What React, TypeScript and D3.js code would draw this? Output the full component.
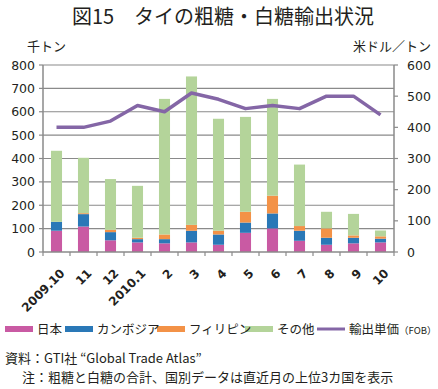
import { useEffect, useRef } from 'react';
import * as d3 from 'd3';

// months (2009.10 - 2010.10)
const categories = ['2009.10', '11', '12', '2010.1', '2', '3', '4', '5', '6', '7', '8', '9', '10'];

// exports, thousand tonnes
const japan = [91, 109, 50, 41, 37, 41, 31, 82, 101, 48, 31, 37, 41];
const cambodia = [38, 53, 35, 14, 18, 50, 44, 44, 64, 43, 30, 24, 16];
const philippines = [0, 4, 10, 6, 20, 25, 16, 46, 76, 20, 40, 10, 10];
const others = [304, 237, 217, 222, 580, 635, 479, 406, 414, 263, 71, 92, 25];

// unit export price (FOB), USD / tonne
const price = [400, 400, 420, 470, 450, 510, 490, 460, 470, 460, 500, 500, 440];

const leftTicks = [0, 100, 200, 300, 400, 500, 600, 700, 800];
const rightTicks = [0, 100, 200, 300, 400, 500, 600];

const seriesNames = ['日本', 'カンボジア', 'フィリピン', 'その他'];
const seriesColors = ['#c95aa3', '#2a78b7', '#f39247', '#b4d49a'];
const lineColor = '#8466a6';

const FONT = '"Noto Sans CJK JP", "Noto Sans", sans-serif';
const NUMFONT = '"DejaVu Sans", sans-serif';

const App = () => {
  const svgRef = useRef<SVGSVGElement | null>(null);

  useEffect(() => {
    if (!svgRef.current) return;
    const svg = d3.select(svgRef.current);
    svg.selectAll('*').remove();

    const left = 43;
    const right = 394;
    const top = 65;
    const bottom = 252;

    const x = d3.scaleBand<string>().domain(categories).range([left, right]).padding(0);
    const barW = x.bandwidth() * 0.41;
    const yL = d3.scaleLinear().domain([0, 800]).range([bottom, top]);
    const yR = d3.scaleLinear().domain([0, 600]).range([bottom, top]);

    const g = svg.append('g').style('font-family', FONT);

    // title
    g.append('text')
      .attr('x', 223)
      .attr('y', 24)
      .attr('text-anchor', 'middle')
      .attr('font-size', 20)
      .attr('fill', '#231f20')
      .text('図15　タイの粗糖・白糖輸出状況');

    // unit labels
    g.append('text').attr('x', 27).attr('y', 51).attr('font-size', 13).attr('fill', '#231f20').text('千トン');
    g.append('text').attr('x', 431).attr('y', 51).attr('text-anchor', 'end').attr('font-size', 13).attr('fill', '#231f20').text('米ドル／トン');

    // gridlines
    g.append('g')
      .selectAll('line')
      .data(leftTicks.slice(1))
      .join('line')
      .attr('x1', left)
      .attr('x2', right)
      .attr('y1', d => yL(d))
      .attr('y2', d => yL(d))
      .attr('stroke', '#8a8a8a')
      .attr('stroke-width', 1.2);

    // stacked bars
    const table = categories.map((c, i) => ({
      cat: c,
      s0: japan[i],
      s1: cambodia[i],
      s2: philippines[i],
      s3: others[i],
    }));
    const stack = d3.stack<any>().keys(['s0', 's1', 's2', 's3']);
    const layers = stack(table);

    g.append('g')
      .selectAll('g')
      .data(layers)
      .join('g')
      .attr('fill', (d, i) => seriesColors[i])
      .selectAll('rect')
      .data(d => d)
      .join('rect')
      .attr('x', d => (x(d.data.cat) as number) + (x.bandwidth() - barW) / 2)
      .attr('width', barW)
      .attr('y', d => yL(d[1]))
      .attr('height', d => Math.max(0, yL(d[0]) - yL(d[1])));

    // axes
    const axisColor = '#8a8a8a';
    g.append('line').attr('x1', left).attr('x2', left).attr('y1', top).attr('y2', bottom)
      .attr('stroke', axisColor).attr('stroke-width', 1.5);
    g.append('line').attr('x1', right).attr('x2', right).attr('y1', top).attr('y2', bottom)
      .attr('stroke', axisColor).attr('stroke-width', 1.5);
    g.append('line').attr('x1', left).attr('x2', right).attr('y1', bottom).attr('y2', bottom)
      .attr('stroke', axisColor).attr('stroke-width', 1.5);

    // left ticks + labels
    const lt = g.append('g');
    lt.selectAll('line')
      .data(leftTicks)
      .join('line')
      .attr('x1', left - 4)
      .attr('x2', left)
      .attr('y1', d => yL(d))
      .attr('y2', d => yL(d))
      .attr('stroke', axisColor)
      .attr('stroke-width', 1.2);
    lt.selectAll('text')
      .data(leftTicks)
      .join('text')
      .attr('x', 35)
      .attr('y', d => yL(d))
      .attr('dy', '0.36em')
      .attr('text-anchor', 'end')
      .attr('font-family', NUMFONT)
      .attr('font-size', 12.5)
      .attr('fill', '#231f20')
      .text(d => d);

    // right ticks + labels
    const rt = g.append('g');
    rt.selectAll('line')
      .data(rightTicks)
      .join('line')
      .attr('x1', right)
      .attr('x2', right + 4)
      .attr('y1', d => yR(d))
      .attr('y2', d => yR(d))
      .attr('stroke', axisColor)
      .attr('stroke-width', 1.2);
    rt.selectAll('text')
      .data(rightTicks)
      .join('text')
      .attr('x', 407)
      .attr('y', d => yR(d))
      .attr('dy', '0.36em')
      .attr('font-family', NUMFONT)
      .attr('font-size', 12.5)
      .attr('fill', '#231f20')
      .text(d => d);

    // bottom ticks at category boundaries
    const bounds = categories.map(c => x(c) as number).concat([right]);
    g.append('g')
      .selectAll('line')
      .data(bounds)
      .join('line')
      .attr('x1', d => d)
      .attr('x2', d => d)
      .attr('y1', bottom)
      .attr('y2', bottom + 4)
      .attr('stroke', axisColor)
      .attr('stroke-width', 1.2);

    // category labels, rotated
    g.append('g')
      .selectAll('text')
      .data(categories)
      .join('text')
      .attr('transform', d => `translate(${(x(d) as number) + x.bandwidth() / 2 + 9},${bottom + 22}) rotate(-45)`)
      .attr('text-anchor', 'end')
      .attr('font-family', NUMFONT)
      .attr('font-size', 12)
      .attr('font-weight', 'bold')
      .attr('fill', '#231f20')
      .text(d => d);

    // price line
    const line = d3.line<number>()
      .x((d, i) => (x(categories[i]) as number) + x.bandwidth() / 2)
      .y(d => yR(d));
    g.append('path')
      .datum(price)
      .attr('d', line)
      .attr('fill', 'none')
      .attr('stroke', lineColor)
      .attr('stroke-width', 3.5)
      .attr('stroke-linejoin', 'round');

    // legend
    const legY = 329;
    const legItems = [
      { x: 5, label: seriesNames[0], color: seriesColors[0] },
      { x: 65, label: seriesNames[1], color: seriesColors[1] },
      { x: 157, label: seriesNames[2], color: seriesColors[2] },
      { x: 245, label: seriesNames[3], color: seriesColors[3] },
    ];
    const leg = g.append('g');
    leg.selectAll('rect')
      .data(legItems)
      .join('rect')
      .attr('x', d => d.x)
      .attr('y', legY - 3)
      .attr('width', 28)
      .attr('height', 6)
      .attr('fill', d => d.color);
    leg.selectAll('text')
      .data(legItems)
      .join('text')
      .attr('x', d => d.x + 32)
      .attr('y', legY)
      .attr('dy', '0.36em')
      .attr('font-size', 12.5)
      .attr('fill', '#231f20')
      .text(d => d.label);
    leg.append('line')
      .attr('x1', 317).attr('x2', 345).attr('y1', legY).attr('y2', legY)
      .attr('stroke', lineColor).attr('stroke-width', 3);
    const lt2 = leg.append('text')
      .attr('x', 349)
      .attr('y', legY)
      .attr('dy', '0.36em')
      .attr('font-size', 12.5)
      .attr('fill', '#231f20');
    lt2.append('tspan').text('輸出単価');
    lt2.append('tspan').attr('font-size', 9.5).text('（FOB）');

    // notes
    g.append('text').attr('x', 5).attr('y', 363).attr('font-size', 13).attr('fill', '#231f20')
      .text('資料：GTI社 “Global Trade Atlas”');
    g.append('text').attr('x', 22).attr('y', 382).attr('font-size', 13).attr('fill', '#231f20')
      .text('注：粗糖と白糖の合計、国別データは直近月の上位3カ国を表示');
  }, []);

  return (
    <svg
      ref={svgRef}
      width={438}
      height={389}
      style={{ position: 'absolute', left: 0, top: 0, background: '#fff' }}
    />
  );
};

export default App;
